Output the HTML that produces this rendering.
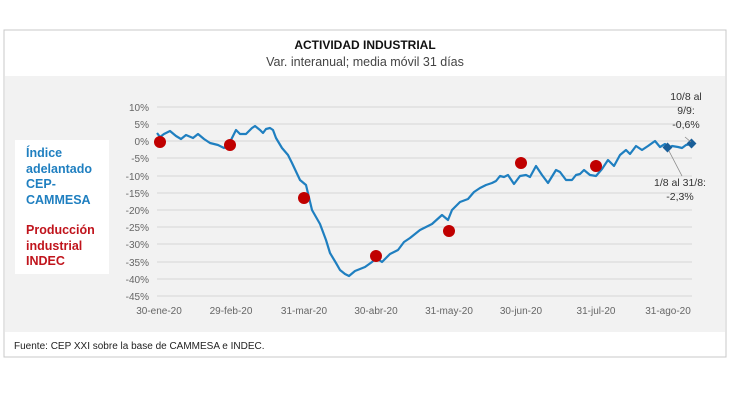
<!DOCTYPE html>
<html><head><meta charset="utf-8"><style>
html,body{margin:0;padding:0;background:#fff;width:730px;height:410px;overflow:hidden;font-family:"Liberation Sans",sans-serif}
svg{display:block;overflow:visible}
</style></head><body>
<svg width="730" height="410" viewBox="0 0 730 410" xmlns="http://www.w3.org/2000/svg" font-family="Liberation Sans, sans-serif">
<rect x="4" y="30" width="722" height="327" fill="#fff" stroke="#c8c8c8"/>
<rect x="5" y="76" width="720" height="256" fill="#f2f2f2"/>
<text x="365" y="49" text-anchor="middle" font-size="12" font-weight="bold" fill="#111">ACTIVIDAD INDUSTRIAL</text>
<text x="365" y="66" text-anchor="middle" font-size="12.5" fill="#444">Var. interanual; media móvil 31 días</text>
<rect x="15" y="140" width="94" height="134" fill="#fff"/>
<g font-size="12.5" font-weight="bold" fill="#1f7fc0">
<text x="26" y="157">Índice</text><text x="26" y="173">adelantado</text><text x="26" y="188">CEP-</text><text x="26" y="204">CAMMESA</text></g>
<g font-size="12.5" font-weight="bold" fill="#c0141c">
<text x="26" y="234">Producción</text><text x="26" y="250">industrial</text><text x="26" y="265">INDEC</text></g>
<g stroke="#d6d6d6" stroke-width="1">
<line x1="157" x2="692" y1="107" y2="107"/><line x1="157" x2="692" y1="124" y2="124"/><line x1="157" x2="692" y1="141" y2="141"/><line x1="157" x2="692" y1="158" y2="158"/><line x1="157" x2="692" y1="176" y2="176"/><line x1="157" x2="692" y1="193" y2="193"/><line x1="157" x2="692" y1="210" y2="210"/><line x1="157" x2="692" y1="227" y2="227"/><line x1="157" x2="692" y1="244" y2="244"/><line x1="157" x2="692" y1="262" y2="262"/><line x1="157" x2="692" y1="279" y2="279"/><line x1="157" x2="692" y1="296" y2="296"/></g>
<g font-size="10" fill="#666" text-anchor="end">
<text x="149" y="111">10%</text><text x="149" y="128">5%</text><text x="149" y="145">0%</text><text x="149" y="162">-5%</text><text x="149" y="180">-10%</text><text x="149" y="197">-15%</text><text x="149" y="214">-20%</text><text x="149" y="231">-25%</text><text x="149" y="248">-30%</text><text x="149" y="266">-35%</text><text x="149" y="283">-40%</text><text x="149" y="300">-45%</text></g>
<g font-size="10" fill="#666" text-anchor="middle">
<text x="159" y="314">30-ene-20</text><text x="231" y="314">29-feb-20</text><text x="304" y="314">31-mar-20</text><text x="376" y="314">30-abr-20</text><text x="449" y="314">31-may-20</text><text x="521" y="314">30-jun-20</text><text x="596" y="314">31-jul-20</text><text x="668" y="314">31-ago-20</text></g>
<polyline fill="none" stroke="#1f7fc0" stroke-width="2.2" stroke-linejoin="round" points="157,133 160,137 164,134 170,131 176,136 181,139 186,135 193,138 198,134 204,139 210,143 218,145 224,148 228,146 236,130 240,134 246,134 252,128 255,126 260,130 263,133 266,129 270,128 273,130 276,138 282,148 288,155 292,163 300,180 306,185 312,210 320,224 326,240 330,253 336,263 340,270 345,274 349,276 355,271 365,267 372,262 376,258 382,262 390,254 398,250 404,242 410,238 420,230 432,224 442,215 448,220 452,210 460,202 468,199 474,192 480,188 486,185 492,183 496,181 500,176 504,177 508,175 514,184 520,176 526,175 530,177 536,166 542,175 548,183 556,170 560,172 566,180 572,180 576,175 580,174 584,170 590,175 596,176 602,169 608,160 614,166 620,155 626,150 630,154 636,146 642,150 648,146 655,141 660,147 665,144 668,149 672,146 678,147 682,148 686,145 691,144"/>
<g fill="#1a5f99"><rect x="664" y="144" width="7" height="7" transform="rotate(45 667.5 147.5)"/><rect x="688" y="140" width="7" height="7" transform="rotate(45 691.5 143.5)"/></g>
<g fill="#c00000"><circle cx="160" cy="142" r="6"/><circle cx="230" cy="145" r="6"/><circle cx="304" cy="198" r="6"/><circle cx="376" cy="256" r="6"/><circle cx="449" cy="231" r="6"/><circle cx="521" cy="163" r="6"/><circle cx="596" cy="166" r="6"/></g>
<g stroke="#888" stroke-width="0.8"><line x1="685" y1="137" x2="691" y2="142"/><line x1="669" y1="151" x2="682" y2="176"/></g>
<g font-size="10.5" fill="#333" text-anchor="middle">
<text x="686" y="100">10/8 al</text><text x="686" y="114">9/9:</text><text x="686" y="128">-0,6%</text>
<text x="680" y="186">1/8 al 31/8:</text><text x="680" y="200">-2,3%</text></g>
<text x="14" y="349" font-size="10" fill="#222">Fuente: CEP XXI sobre la base de CAMMESA e INDEC.</text>
</svg>
</body></html>
